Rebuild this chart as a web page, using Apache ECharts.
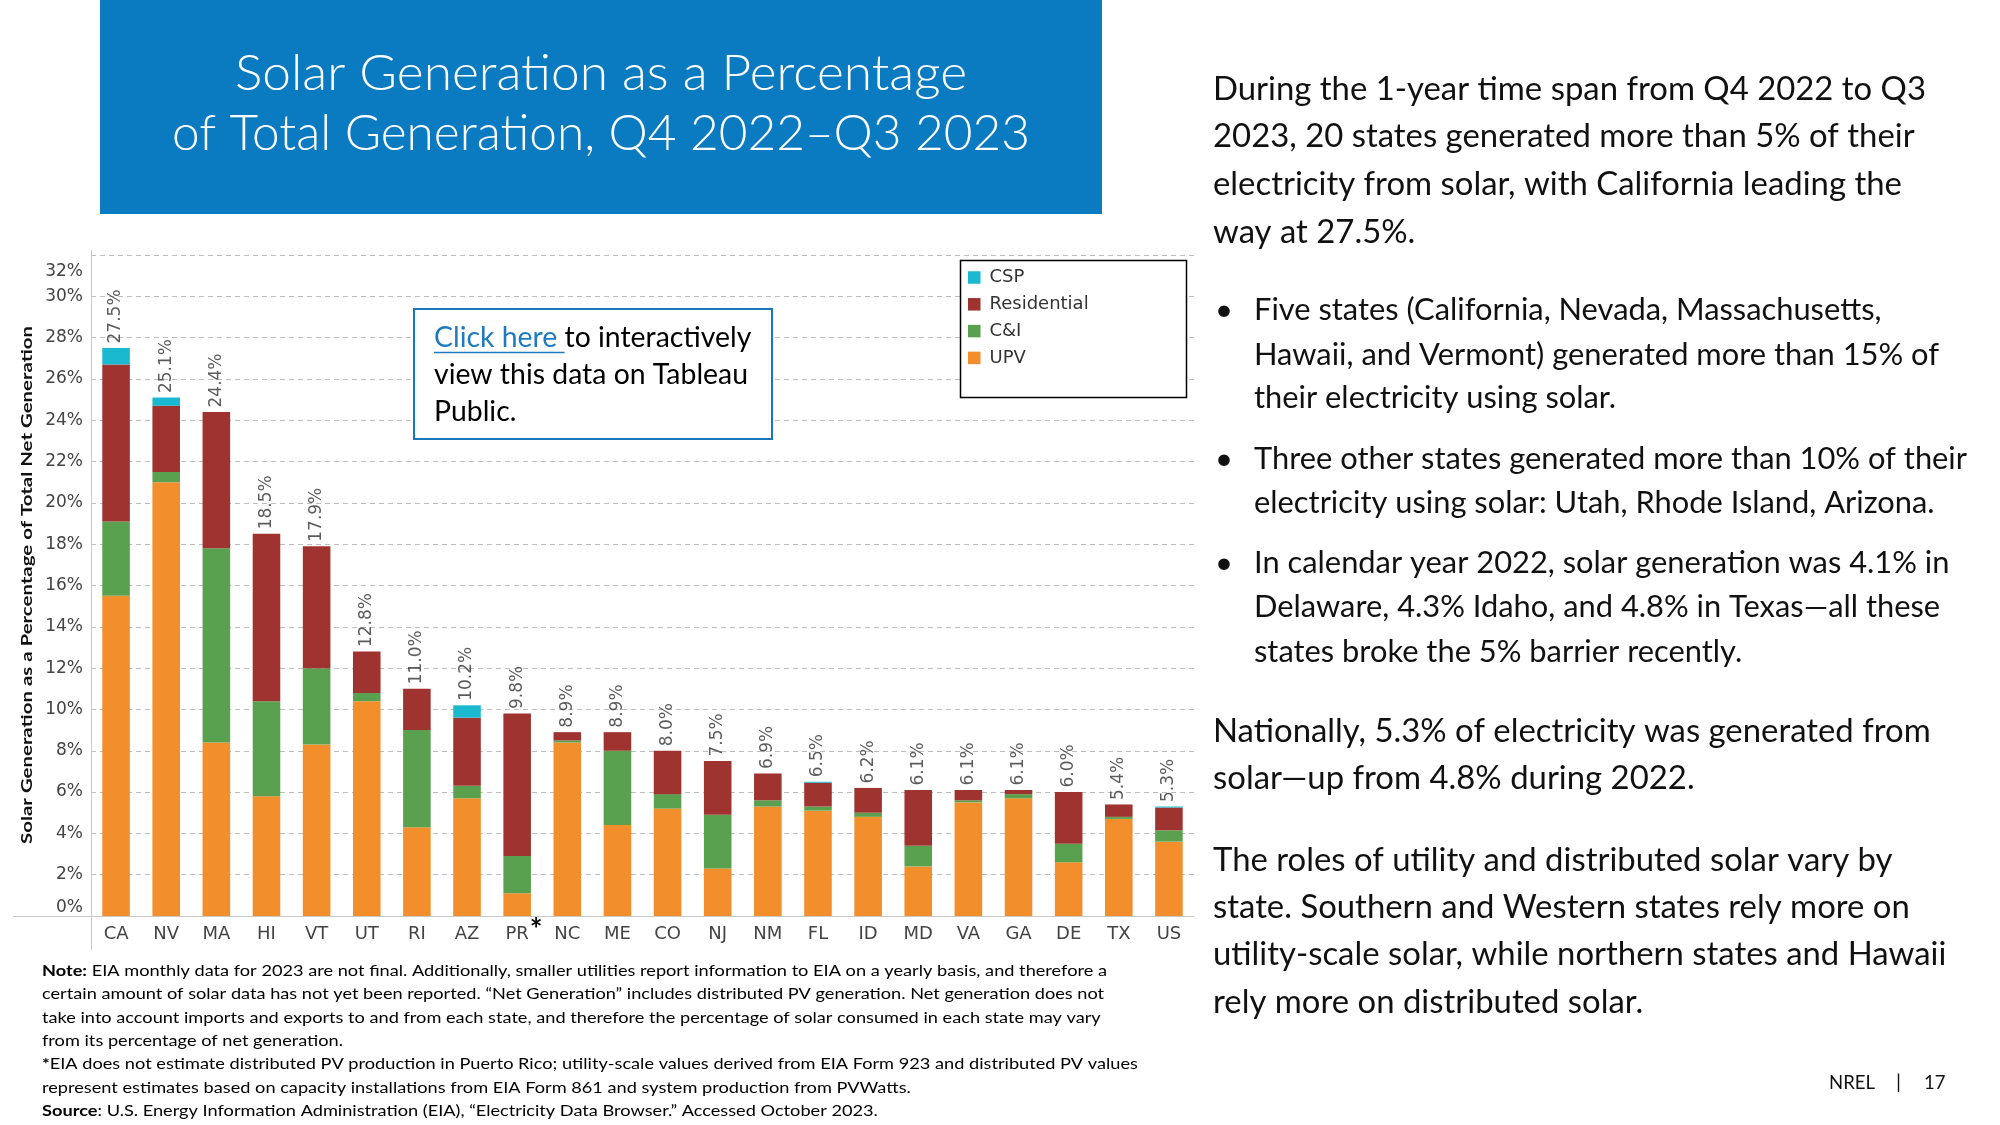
<!DOCTYPE html>
<html><head><meta charset="utf-8">
<script src="https://cdn.jsdelivr.net/npm/echarts@6/dist/echarts.min.js"></script>
<style>html,body{margin:0;padding:0;background:#fff}#c{width:2000px;height:1125px}</style>
</head><body><div id="c"></div>
<script>
// ---------- data ----------
const states = ['CA','NV','MA','HI','VT','UT','RI','AZ','PR','NC','ME','CO','NJ','NM','FL','ID','MD','VA','GA','DE','TX','US'];
const upv    = [15.5,21.0,8.4,5.8,8.3,10.4,4.3,5.7,1.1,8.4,4.4,5.2,2.3,5.3,5.1,4.8,2.4,5.5,5.7,2.6,4.7,3.6];
const cni    = [3.6,0.5,9.4,4.6,3.7,0.4,4.7,0.6,1.8,0.1,3.6,0.7,2.6,0.3,0.2,0.2,1.0,0.1,0.2,0.9,0.1,0.55];
const resid  = [7.6,3.2,6.6,8.1,5.9,2.0,2.0,3.3,6.9,0.4,0.9,2.1,2.6,1.3,1.15,1.2,2.7,0.5,0.2,2.5,0.6,1.1];
const csp    = [0.8,0.4,0,0,0,0,0,0.6,0,0,0,0,0,0,0.05,0,0,0,0,0,0,0.05];
const totals = [27.5,25.1,24.4,18.5,17.9,12.8,11.0,10.2,9.8,8.9,8.9,8.0,7.5,6.9,6.5,6.2,6.1,6.1,6.1,6.0,5.4,5.3];
const yMin = 0, yMax = 32, yStep = 2;
const seriesNames = ['CSP','Residential','C&I','UPV'];

const titleLines = ['Solar Generation as a Percentage','of Total Generation, Q4 2022\u2013Q3 2023'];
const yAxisTitle = 'Solar Generation as a Percentage of Total Net Generation';
const rightBlocks = [
  {bullet:false, lines:['During the 1-year time span from Q4 2022 to Q3','2023, 20 states generated more than 5% of their','electricity from solar, with California leading the','way at 27.5%.'], ys:[89,136.5,184,232]},
  {bullet:true, lines:['Five states (California, Nevada, Massachusetts,','Hawaii, and Vermont) generated more than 15% of','their electricity using solar.'], ys:[310,354.5,398]},
  {bullet:true, lines:['Three other states generated more than 10% of their','electricity using solar: Utah, Rhode Island, Arizona.'], ys:[459,502.5]},
  {bullet:true, lines:['In calendar year 2022, solar generation was 4.1% in','Delaware, 4.3% Idaho, and 4.8% in Texas\u2014all these','states broke the 5% barrier recently.'], ys:[562.5,607,652]},
  {bullet:false, lines:['Nationally, 5.3% of electricity was generated from','solar\u2014up from 4.8% during 2022.'], ys:[731,778]},
  {bullet:false, lines:['The roles of utility and distributed solar vary by','state. Southern and Western states rely more on','utility-scale solar, while northern states and Hawaii','rely more on distributed solar.'], ys:[860,907,954,1002]}
];
const footLines = [
  ['Note:',' EIA monthly data for 2023 are not final. Additionally, smaller utilities report information to EIA on a yearly basis, and therefore a'],
  ['','certain amount of solar data has not yet been reported. \u201cNet Generation\u201d includes distributed PV generation. Net generation does not'],
  ['','take into account imports and exports to and from each state, and therefore the percentage of solar consumed in each state may vary'],
  ['','from its percentage of net generation.'],
  ['*','EIA does not estimate distributed PV production in Puerto Rico; utility-scale values derived from EIA Form 923 and distributed PV values'],
  ['','represent estimates based on capacity installations from EIA Form 861 and system production from PVWatts.'],
  ['Source',': U.S. Energy Information Administration (EIA), \u201cElectricity Data Browser.\u201d Accessed October 2023.']
];
const footYs = [971,994,1018,1041,1064,1088,1111];

// ---------- helpers ----------
const FONT = 'Lato';
const TFONT = 'DejaVu Sans';
const ctx = document.createElement('canvas').getContext('2d');
function tw(str, size, weight){ ctx.font = (weight||'normal') + ' ' + size + 'px ' + FONT; return ctx.measureText(str).width; }
function txt(str, x, y, size, o){
  o = o || {};
  const a = o.a || 'left';
  return {type:'text', x:x, y:y, scaleX:o.sx||1, rotation:o.rot||0, z:o.z||50, silent:true,
    style:{text:str, fontFamily:FONT, fontSize:size, fontWeight:o.w||'normal', fill:o.c||'#000',
      textAlign:a, align:a, textVerticalAlign:'middle', verticalAlign:'middle', rich:o.rich}};
}

const els = [];
// title box
els.push({type:'rect', shape:{x:100,y:0,width:1002,height:214}, style:{fill:'#0a7bc1'}, z:5, silent:true});
const TS = 50;
els.push(txt(titleLines[0], 601, 74, TS, {w:300, c:'#fff', a:'center', sx: 732/tw(titleLines[0],TS,300)}));
els.push(txt(titleLines[1], 601, 134, TS, {w:300, c:'#fff', a:'center', sx: 858/tw(titleLines[1],TS,300)}));

// right text
const RS = 33, BS = 31;
const sR = 713 / tw(rightBlocks[0].lines[0], RS);
const sB = 713 / tw(rightBlocks[2].lines[0], BS);
rightBlocks.forEach(b => {
  b.lines.forEach((l, i) => {
    if (b.bullet) els.push(txt(l, 1254, b.ys[i], BS, {sx:sB, c:'#111'}));
    else els.push(txt(l, 1213, b.ys[i], RS, {sx:sR, c:'#111'}));
  });
  if (b.bullet) els.push(txt('\u2022', 1215, b.ys[0], BS, {c:'#111'}));
});

// footnotes
const FS = 16;
const sF = 1065 / (tw(footLines[0][0], FS, 'bold') + tw(footLines[0][1], FS));
const boldRich = {b:{fontFamily:FONT, fontSize:FS, fontWeight:'bold', fill:'#000', color:'#000'},
                  n:{fontFamily:FONT, fontSize:FS, fontWeight:'normal', fill:'#000', color:'#000'}};
footLines.forEach((p, i) => {
  const s = (p[0] ? '{b|' + p[0] + '}' : '') + '{n|' + p[1] + '}';
  els.push(txt(s, 42, footYs[i], FS, {sx:sF, rich:boldRich}));
});

// click box
els.push({type:'rect', shape:{x:414,y:309,width:358,height:130}, style:{fill:'#fff', stroke:'#1a78b8', lineWidth:2}, z:10, silent:true});
const CS = 28;
const sC = 314 / tw('view this data on Tableau', CS);
const cRich = {a:{fontFamily:FONT, fontSize:CS, fill:'#1f7bbf', color:'#1f7bbf'}, k:{fontFamily:FONT, fontSize:CS, fill:'#000', color:'#000'}};
els.push(txt('{a|Click here }{k|to interactively}', 434, 338, CS, {sx:sC, rich:cRich}));
els.push(txt('view this data on Tableau', 434, 375, CS, {sx:sC}));
els.push(txt('Public.', 434, 411.5, CS, {sx:sC}));
const ulw = tw('Click here ', CS) * sC;
els.push({type:'line', shape:{x1:434,y1:352.5,x2:434+ulw,y2:352.5}, style:{stroke:'#1f7bbf', lineWidth:1.5}, z:50, silent:true});

// legend box
els.push({type:'rect', shape:{x:960.5,y:260.5,width:226,height:137}, style:{fill:'#fff', stroke:'#000', lineWidth:1.5}, z:10, silent:true});

// y axis title
const YS = 16;
els.push(txt(yAxisTitle, 27, 585, YS, {w:'bold', a:'center', rot:Math.PI/2, sx: 518/tw(yAxisTitle, YS, 'bold'), c:'#111'}));

// axis extensions (Tableau style)
els.push({type:'line', shape:{x1:13,y1:916.5,x2:91,y2:916.5}, style:{stroke:'#c8c8c8', lineWidth:1}, z:5, silent:true});
els.push({type:'line', shape:{x1:91.5,y1:916,x2:91.5,y2:950}, style:{stroke:'#c8c8c8', lineWidth:1}, z:5, silent:true});
els.push({type:'line', shape:{x1:91.5,y1:250,x2:91.5,y2:255}, style:{stroke:'#c8c8c8', lineWidth:1}, z:5, silent:true});

// page footer
const NS = 20;
const sN = 46 / tw('NREL', NS);
els.push(txt('NREL', 1829, 1083, NS, {sx:sN, c:'#111'}));
els.push(txt('|', 1898.5, 1083, NS, {a:'center', c:'#111'}));
els.push(txt('17', 1924, 1083, NS, {sx:sN, c:'#111'}));

// ---------- chart ----------
const chart = echarts.init(document.getElementById('c'), null, {renderer:'canvas'});
const colors = {'CSP':'#1bb9d0','Residential':'#9f3330','C&I':'#59a14f','UPV':'#f28e2b'};
function barSeries(name, data){
  return {name:name, type:'bar', stack:'s', data:data, barWidth:'55%', itemStyle:{color:colors[name]}, silent:true, z:2};
}
const option = {
  animation:false,
  backgroundColor:'#fff',
  grid:{left:91, right:806, top:255, bottom:209, containLabel:false},
  legend:{data:seriesNames, orient:'vertical', left:968, top:268.5, padding:0, itemWidth:12.5, itemHeight:12.5, itemGap:8.8,
    icon:'rect', selectedMode:false, z:30,
    textStyle:{fontFamily:TFONT, fontSize:18, color:'#333', lineHeight:12.5, padding:[0,0,0,4]}},
  xAxis:{type:'category', data:states, axisTick:{show:false},
    axisLine:{lineStyle:{color:'#c8c8c8', width:1}},
    axisLabel:{fontFamily:TFONT, fontSize:18, color:'#444', margin:9}},
  yAxis:{type:'value', min:yMin, max:yMax, interval:yStep,
    axisLine:{show:true, lineStyle:{color:'#c8c8c8', width:1}},
    axisTick:{show:false},
    splitLine:{lineStyle:{color:'#bdbdbd', type:[5,4], width:1}},
    axisLabel:{fontFamily:TFONT, fontSize:17, color:'#444', margin:8,
      formatter:v => v === yMax ? '{t|' + v + '%}' : v + '%',
      rich:{t:{fontFamily:TFONT, fontSize:17, color:'#444', padding:[8,0,0,0]}},
      verticalAlignMinLabel:'bottom', verticalAlignMaxLabel:'top'}},
  series:[
    barSeries('UPV', upv),
    barSeries('C&I', cni),
    barSeries('Residential', resid),
    barSeries('CSP', csp),
    {name:'total', type:'scatter', data:totals, symbol:'rect', symbolSize:1, itemStyle:{color:'rgba(0,0,0,0)'}, silent:true, z:5,
      label:{show:true, position:'top', distance:4, rotate:90, align:'left', verticalAlign:'middle',
        fontFamily:TFONT, fontSize:17, color:'#333', formatter:p => totals[p.dataIndex].toFixed(1) + '%'}}
  ],
  graphic:{elements:els}
};
chart.setOption(option);
// superscript asterisk after PR, placed from the axis scale
const prX = chart.convertToPixel({xAxisIndex:0}, 'PR');
els.push({type:'text', x:prX + 19, y:930, z:50, silent:true,
  style:{text:'*', fontFamily:FONT, fontSize:30, fontWeight:'bold', fill:'#000', textAlign:'center', align:'center', textVerticalAlign:'middle', verticalAlign:'middle'}});
chart.setOption({graphic:{elements:els}});
</script></body></html>
